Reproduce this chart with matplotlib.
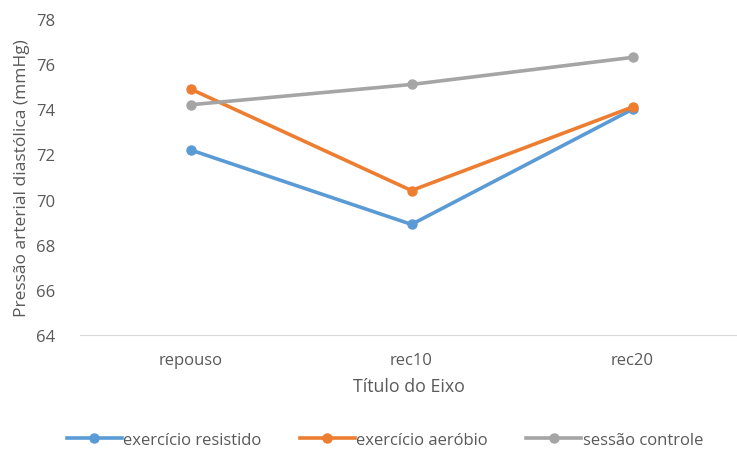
import matplotlib.pyplot as plt

plt.rcParams['font.family'] = ['Open Sans', 'DejaVu Sans']

momentos = ['repouso', 'rec10', 'rec20']
resistido = [72.2, 68.9, 74.0]
aerobio = [74.9, 70.4, 74.1]
controle = [74.2, 75.1, 76.3]

cor_texto = '#595959'

fig = plt.figure(figsize=(7.37, 4.56), dpi=100)
ax = fig.add_axes([80/737, 120/456, 657/737, 316/456])

x = range(len(momentos))
ax.plot(x, resistido, color='#5B9BD5', lw=2.6, marker='o', ms=6.5, label='exercício resistido')
ax.plot(x, aerobio, color='#ED7D31', lw=2.6, marker='o', ms=6.5, label='exercício aeróbio')
ax.plot(x, controle, color='#A5A5A5', lw=2.6, marker='o', ms=6.5, label='sessão controle')

ax.set_xlim(-0.5, -0.5 + 657/221)
ax.set_ylim(64, 78)
ax.set_yticks(range(64, 79, 2))
ax.set_xticks(list(x))
ax.set_xticklabels(momentos)

for s in ['top', 'right', 'left']:
    ax.spines[s].set_visible(False)
ax.spines['bottom'].set_color('#D9D9D9')
ax.tick_params(axis='both', length=0, colors=cor_texto, labelsize=12)
ax.tick_params(axis='x', pad=12)
ax.tick_params(axis='y', pad=18)

ax.set_ylabel('Pressão arterial diastólica (mmHg)', color=cor_texto, fontsize=12.5, labelpad=4)
ax.set_xlabel('Título do Eixo', color=cor_texto, fontsize=12.8, labelpad=7)

fig.legend(loc='center', bbox_to_anchor=(385/737, 1 - 441/456), ncol=3, frameon=False,
           handlelength=3.3, columnspacing=2.3, handletextpad=0.1, fontsize=12,
           labelcolor=cor_texto)

fig.savefig('out.png', dpi=100)
